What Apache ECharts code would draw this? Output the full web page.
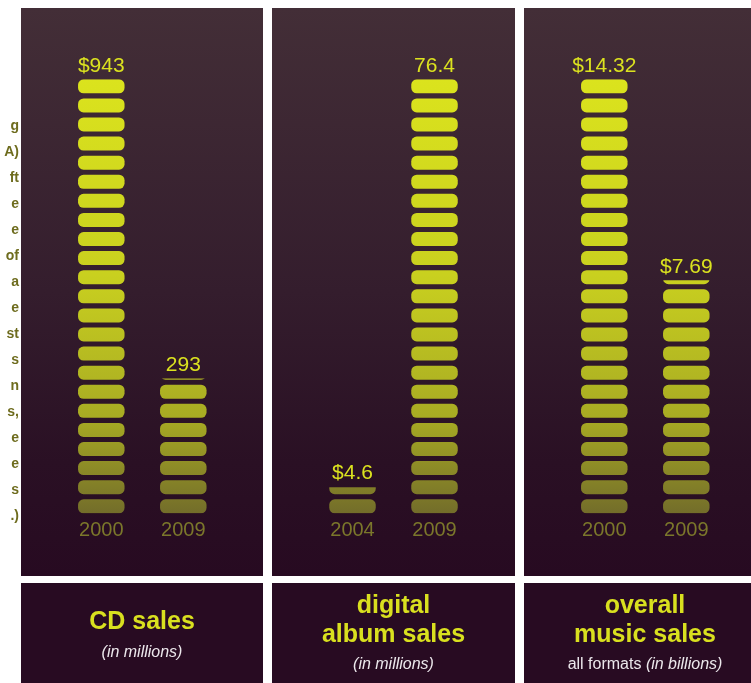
<!DOCTYPE html>
<html>
<head>
<meta charset="utf-8">
<style>
  html, body { margin: 0; padding: 0; background: #ffffff; }
  #chart { width: 751px; height: 683px; }
</style>
<script src="https://cdn.jsdelivr.net/npm/echarts@6/dist/echarts.min.js"></script>
</head>
<body>
<div id="chart"></div>
<script>
// ---- data ----
const cdYears = ['2000', '2009'];
const cdValues = [943, 293];
const cdLabels = ['$943', '293'];

const digitalYears = ['2004', '2009'];
const digitalValues = [4.6, 76.4];
const digitalLabels = ['$4.6', '76.4'];

const overallYears = ['2000', '2009'];
const overallValues = [14.32, 7.69];
const overallLabels = ['$14.32', '$7.69'];

const sideText = ['g', 'A)', 'ft', 'e', 'e', 'of', 'a', 'e', 'st', 's', 'n', 's,', 'e', 'e', 's', '.)'];

// ---- styling ----
const segPath = 'path://M5.5,0H41A5.5,5.5,0,0,1,46.5,5.5V8.5A5.5,5.5,0,0,1,41,14H5.5A5.5,5.5,0,0,1,0,8.5V5.5A5.5,5.5,0,0,1,5.5,0Z';
const plotTop = 79.3;
const plotHeight = 434;
const segGradient = {
  type: 'linear', x: 0, y: 0, x2: 0, y2: 1,
  colorStops: [
    { offset: 0, color: '#dbe31d' },
    { offset: 0.45, color: '#c9d01f' },
    { offset: 0.78, color: '#a8ab23' },
    { offset: 1, color: '#736d2a' }
  ]
};
const panelGradient = {
  type: 'linear', x: 0, y: 0, x2: 0, y2: 1,
  colorStops: [
    { offset: 0, color: '#432e37' },
    { offset: 0.5, color: '#341d2d' },
    { offset: 0.8, color: '#2a1024' },
    { offset: 1, color: '#270a21' }
  ]
};

const panels = [
  { years: cdYears, values: cdValues, labels: cdLabels, gridLeft: 60.3 },
  { years: digitalYears, values: digitalValues, labels: digitalLabels, gridLeft: 311.5 },
  { years: overallYears, values: overallValues, labels: overallLabels, gridLeft: 563.3 }
];

const grids = [], xAxes = [], yAxes = [], series = [];
panels.forEach((p, i) => {
  const maxV = Math.max.apply(null, p.values);
  grids.push({ left: p.gridLeft, top: plotTop, width: 164, height: plotHeight });
  xAxes.push({
    type: 'category', gridIndex: i, data: p.years,
    axisLine: { show: false }, axisTick: { show: false }, splitLine: { show: false },
    axisLabel: { color: '#7b772b', fontSize: 20, fontFamily: 'Liberation Sans', margin: 7 }
  });
  yAxes.push({ type: 'value', gridIndex: i, min: 0, max: maxV, show: false });
  // segmented stacks
  series.push({
    type: 'pictorialBar', xAxisIndex: i, yAxisIndex: i,
    zlevel: 1, z: 2,
    data: p.values,
    symbol: segPath,
    symbolSize: [46.5, 14],
    symbolRepeat: 23,
    symbolClip: true,
    symbolBoundingData: maxV,
    itemStyle: { color: '#dbe31d' },
    label: { show: false },
    emphasis: { disabled: true },
    silent: true
  });
  // value labels sitting at the value
  series.push({
    type: 'bar', xAxisIndex: i, yAxisIndex: i,
    data: p.values,
    barWidth: 46.5,
    itemStyle: { color: 'rgba(0,0,0,0)' },
    label: {
      show: true, position: 'top', distance: 3,
      color: '#dbe21f', fontSize: 21, fontFamily: 'Liberation Sans',
      formatter: (params) => p.labels[params.dataIndex]
    },
    emphasis: { disabled: true },
    silent: true
  });
});

const graphic = [];
// vertical colour ramp painted only onto the segments (same layer, source-atop)
graphic.push({
  type: 'rect', zlevel: 1, z: 100, silent: true,
  shape: { x: 0, y: plotTop, width: 751, height: plotHeight },
  style: { fill: segGradient, blend: 'source-atop' }
});
// panels
[[21, 242], [272, 243], [524, 242]].forEach(([x, w]) => {
  graphic.push({ type: 'rect', z: -10, shape: { x: x, y: 8, width: w, height: 568 }, style: { fill: panelGradient } });
  graphic.push({ type: 'rect', z: -10, shape: { x: x, y: 583, width: w, height: 110 }, style: { fill: '#280b22' } });
});
// side text fragments
sideText.forEach((t, k) => {
  graphic.push({
    type: 'text', z: 50, x: 19, y: 126 + k * 26,
    style: { text: t, align: 'right', verticalAlign: 'middle', fill: '#6e6c1e',
      font: 'bold 14px "Liberation Sans"' }
  });
});
const titleFont = 'bold 25px "Liberation Sans"';
const subFont = 'italic 16px "Liberation Sans"';
function addText(text, x, y, font, fill) {
  graphic.push({ type: 'text', z: 50, x: x, y: y,
    style: { text: text, align: 'center', verticalAlign: 'middle', fill: fill, font: font } });
}
addText('CD sales', 142, 622, titleFont, '#d9e01f');
addText('(in millions)', 142, 652.5, subFont, '#ece8ec');
addText('digital', 393.5, 606, titleFont, '#d9e01f');
addText('album sales', 393.5, 635, titleFont, '#d9e01f');
addText('(in millions)', 393.5, 665, subFont, '#ece8ec');
addText('overall', 645, 606, titleFont, '#d9e01f');
addText('music sales', 645, 635, titleFont, '#d9e01f');
graphic.push({ type: 'text', z: 50, x: 645, y: 665,
  style: {
    text: '{n|all formats }{i|(in billions)}', align: 'center', verticalAlign: 'middle',
    rich: {
      n: { font: '16px "Liberation Sans"', fill: '#ece8ec' },
      i: { font: 'italic 16px "Liberation Sans"', fill: '#ece8ec' }
    }
  }
});

const chart = echarts.init(document.getElementById('chart'), null, { renderer: 'canvas' });
chart.setOption({
  backgroundColor: '#ffffff',
  animation: false,
  grid: grids,
  xAxis: xAxes,
  yAxis: yAxes,
  series: series,
  graphic: graphic
});
</script>
</body>
</html>
